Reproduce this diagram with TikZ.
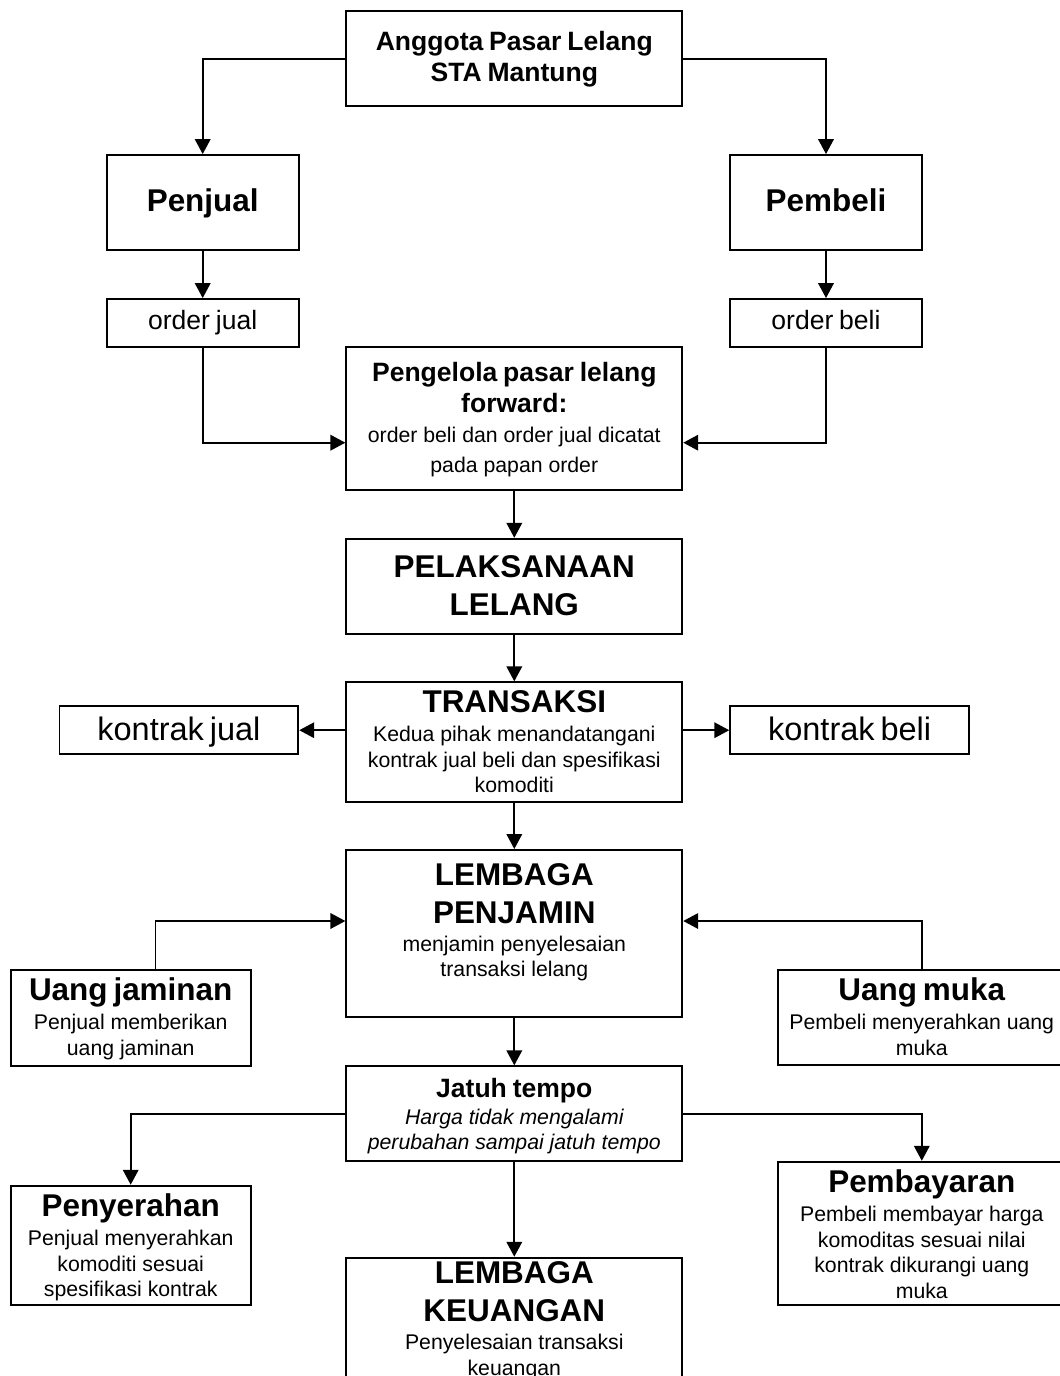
\documentclass[tikz,border=0pt]{standalone}
\usepackage{fontspec}
\setmainfont{Liberation Sans}
\usetikzlibrary{arrows.meta}
\newcommand\szbig{\fontsize{17.9pt}{21.7pt}\selectfont}
\newcommand\szmid{\fontsize{15.1pt}{18pt}\selectfont}
\newcommand\szsmall{\fontsize{12.1pt}{14.5pt}\selectfont}
\tikzset{
box/.style={draw, line width=1.1pt, inner sep=0pt, minimum width=6.72cm, minimum height=1.9cm},
txt/.style={anchor=base, text width=7.6cm, align=center, inner sep=0pt},
arr/.style={-{Triangle[length=8.5pt,width=8.8pt]}, line width=1.1pt}
}
\begin{document}
\begin{tikzpicture}[x=0.02cm, y=-0.02cm]
  \useasboundingbox (0,0) rectangle (1060,1376);
  \node[box] (anggota) at (514.3,58.8) {};
  \node[box, minimum width=3.84cm, minimum height=1.906cm] (penjual) at (202.7,202.7) {};
  \node[box, minimum width=3.84cm, minimum height=1.906cm] (pembeli) at (826,202.7) {};
  \node[box, minimum width=3.84cm, minimum height=0.954cm] (ojual) at (202.7,322.9) {};
  \node[box, minimum width=3.84cm, minimum height=0.954cm] (obeli) at (826,322.9) {};
  \node[box, minimum height=2.866cm] (pengelola) at (514.3,418.3) {};
  \node[box] (pelaksanaan) at (514.3,586.3) {};
  \node[box, minimum height=2.4cm] (transaksi) at (514.3,742.3) {};
  \node[box, minimum width=4.776cm, minimum height=0.966cm] (kjual) at (178.9,730.2) {};
  \node[box, minimum width=4.776cm, minimum height=0.966cm] (kbeli) at (849.6,730.2) {};
  \node[box, minimum height=3.334cm] (penjamin) at (514.3,933.3) {};
  \node[box, minimum width=4.8cm, minimum height=1.92cm] (ujaminan) at (130.7,1018) {};
  \node[box, minimum width=5.76cm, minimum height=1.9cm] (umuka) at (921.8,1017.5) {};
  \node[box] (jatuh) at (514.3,1113.8) {};
  \node[box, minimum width=4.8cm, minimum height=2.392cm] (penyerahan) at (130.7,1245.5) {};
  \node[box, minimum width=5.76cm, minimum height=2.866cm] (pembayaran) at (921.8,1233.4) {};
  \node[box, minimum height=3cm] (keuangan) at (514.3,1332.7) {};

  \node[txt] (t-anggota) at (514.3,50) {\szmid\bfseries Anggota Pasar Lelang\\STA Mantung\par};
  \node[txt] (t-penjual) at (202.7,211.7) {\szbig\bfseries Penjual};
  \node[txt] (t-pembeli) at (826,211.7) {\szbig\bfseries Pembeli};
  \node[txt] (t-ojual) at (202.7,329.3) {\szmid order jual};
  \node[txt] (t-obeli) at (826,329.3) {\szmid order beli};
  \node[txt] (t-pengelola) at (514.3,381) {{\szmid\bfseries Pengelola pasar lelang\\forward:\par}\vskip0pt
    {\fontsize{12.1pt}{17pt}\selectfont order beli dan order jual dicatat\\pada papan order\par}};
  \node[txt] (t-pelaksanaan) at (514.3,577.3) {\szbig\bfseries PELAKSANAAN\\LELANG\par};
  \node[txt] (t-transaksi) at (514.3,712.7) {{\szbig\bfseries TRANSAKSI\par}\vskip1.9pt
    {\szsmall Kedua pihak menandatangani\\kontrak jual beli dan spesifikasi\\komoditi\par}};
  \node[txt] (t-kjual) at (178.9,740) {\fontsize{18.5pt}{22pt}\selectfont kontrak jual};
  \node[txt] (t-kbeli) at (849.6,740) {\fontsize{18.5pt}{22pt}\selectfont kontrak beli};
  \node[txt] (t-penjamin) at (514.3,885.7) {{\szbig\bfseries LEMBAGA\\PENJAMIN\par}\vskip1.2pt
    {\szsmall menjamin penyelesaian\\transaksi lelang\par}};
  \node[txt] (t-ujaminan) at (130.7,1000.7) {{\szbig\bfseries Uang jaminan\par}\vskip2.1pt
    {\szsmall Penjual memberikan\\uang jaminan\par}};
  \node[txt] (t-umuka) at (921.8,1000.7) {{\szbig\bfseries Uang muka\par}\vskip2.1pt
    {\szsmall Pembeli menyerahkan uang\\muka\par}};
  \node[txt] (t-jatuh) at (514.3,1097.5) {{\szmid\bfseries Jatuh tempo\par}\vskip0.6pt
    {\szsmall\itshape Harga tidak mengalami\\perubahan sampai jatuh tempo\par}};
  \node[txt] (t-penyerahan) at (130.7,1216.7) {{\szbig\bfseries Penyerahan\par}\vskip2.1pt
    {\szsmall Penjual menyerahkan\\komoditi sesuai\\spesifikasi kontrak\par}};
  \node[txt] (t-pembayaran) at (921.8,1192) {{\szbig\bfseries Pembayaran\par}\vskip2.5pt
    {\szsmall Pembeli membayar harga\\komoditas sesuai nilai\\kontrak dikurangi uang\\muka\par}};
  \node[txt] (t-keuangan) at (514.3,1283.3) {{\szbig\bfseries LEMBAGA\\KEUANGAN\par}\vskip1.6pt
    {\szsmall Penyelesaian transaksi\\keuangan\par}};

  \draw[arr] (anggota.west) -| (penjual.north);
  \draw[arr] (anggota.east) -| (pembeli.north);
  \draw[arr] (penjual) -- (ojual);
  \draw[arr] (pembeli) -- (obeli);
  \draw[arr] (ojual.south) |- ([yshift=-0.488cm]pengelola.west);
  \draw[arr] (obeli.south) |- ([yshift=-0.488cm]pengelola.east);
  \draw[arr] (pengelola) -- (pelaksanaan);
  \draw[arr] (pelaksanaan) -- (transaksi);
  \draw[arr] (transaksi.west |- kjual.east) -- (kjual.east);
  \draw[arr] (transaksi.east |- kbeli.west) -- (kbeli.west);
  \draw[arr] (transaksi) -- (penjamin);
  \draw[arr] ([xshift=0.496cm]ujaminan.north) |- ([yshift=0.246cm]penjamin.west);
  \draw[arr] (umuka.north) |- ([yshift=0.246cm]penjamin.east);
  \draw[arr] (penjamin) -- (jatuh);
  \draw[arr] (jatuh.west) -| (penyerahan.north);
  \draw[arr] (jatuh.east) -| (pembayaran.north);
  \draw[arr] (jatuh) -- (keuangan);
\end{tikzpicture}
\end{document}
